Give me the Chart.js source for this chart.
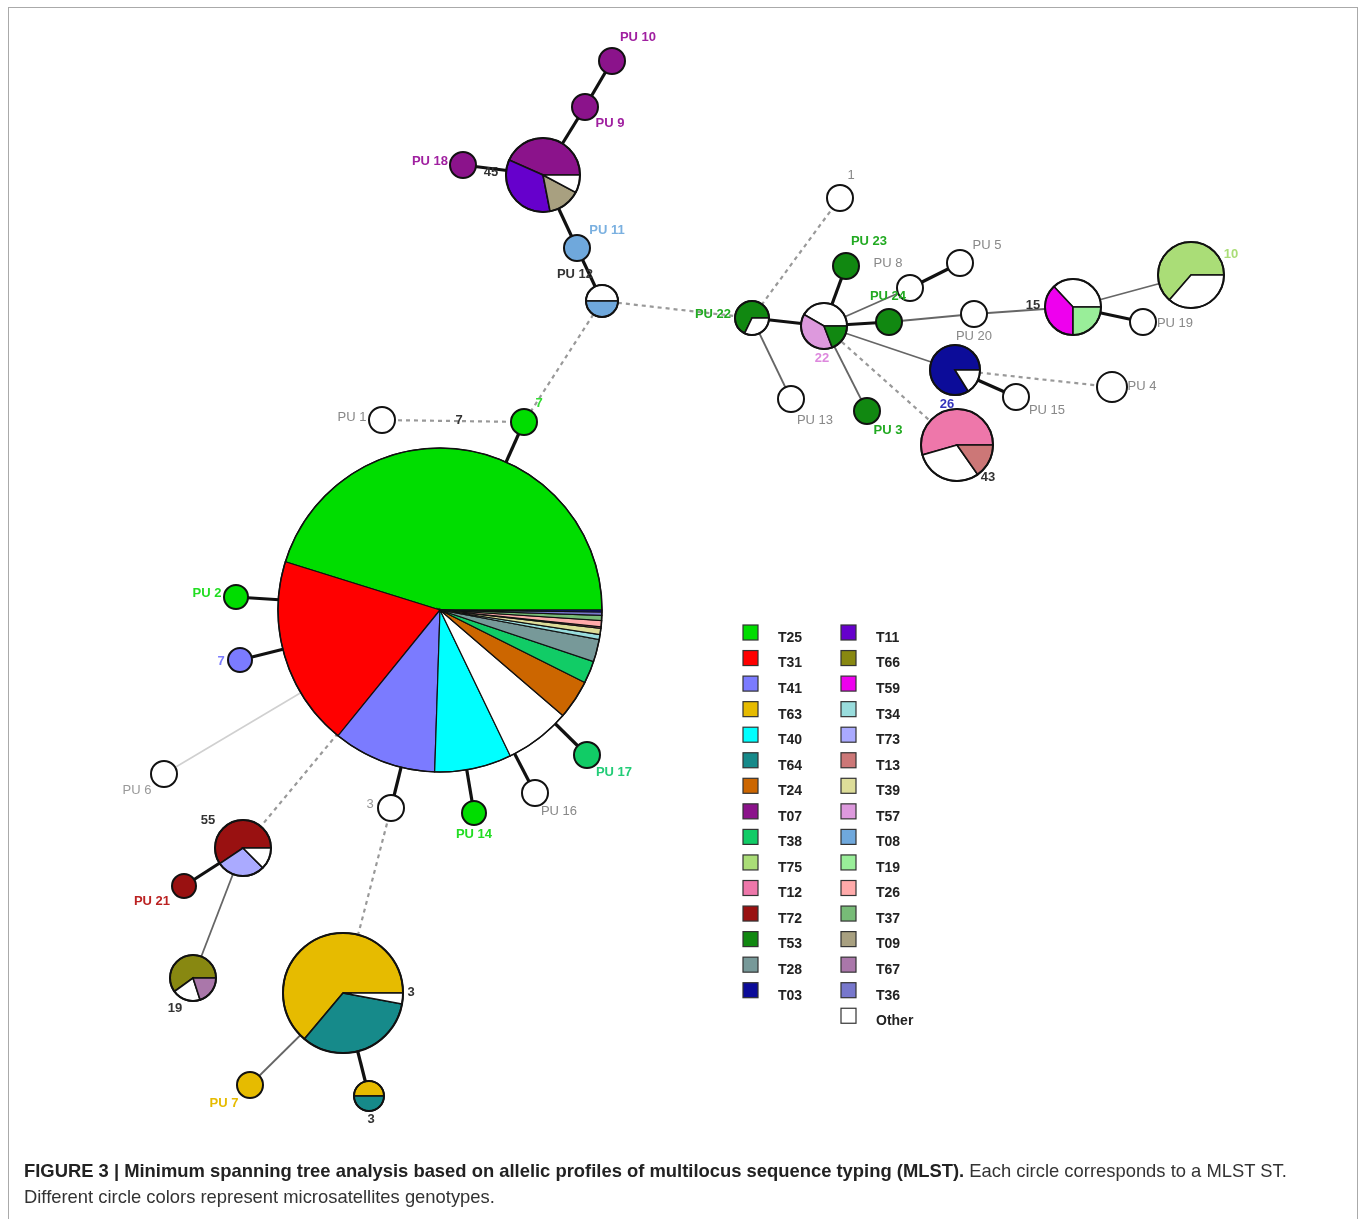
<!DOCTYPE html>
<html>
<head>
<meta charset="utf-8">
<script src="https://cdn.jsdelivr.net/npm/chart.js@4/dist/chart.umd.min.js"></script>
<style>
  body { margin: 0; background: #fff; }
  #frame { position: absolute; left: 8px; top: 7px; width: 1348px; height: 1240px; border: 1px solid #aaa; }
  #wrap { position: absolute; left: 0; top: 0; width: 1362px; height: 1219px; }
  #caption { position: absolute; left: 24px; top: 1158px; font: 18.4px "Liberation Sans", Arial, sans-serif; line-height: 26px; color: #333; }
  #caption b { color: #222; }
</style>
</head>
<body>
<div id="frame"></div>
<div id="wrap"><canvas id="tree" width="1362" height="1219"></canvas></div>
<div id="caption"><b>FIGURE 3 | Minimum spanning tree analysis based on allelic profiles of multilocus sequence typing (MLST).</b> Each circle corresponds to a MLST ST.<br>Different circle colors represent microsatellites genotypes.</div>
<script>
// genotype colours
const typeNames = ['T25','T31','T41','T63','T40','T64','T24','T07','T38','T75','T12','T72','T53','T28','T03',
                   'T11','T66','T59','T34','T73','T13','T39','T57','T08','T19','T26','T37','T09','T67','T36','Other'];
const typeColors = ['#00dd00','#ff0000','#7b7bff','#e6bb00','#00ffff','#168a8a','#cc6600','#8b138b','#11cc66','#aadd77','#ee77aa','#991111','#118811','#779999','#0c0c99',
                    '#6600cc','#888811','#ee00ee','#99dddd','#aaaaff','#cc7777','#dddd99','#dd99dd','#6fa8dc','#99ee99','#ffaaaa','#77bb77','#a8a080','#aa77aa','#7777cc','#ffffff'];

// nodes (layout coordinates) and their size
const nodeIds = ['PU10','PU9','N45','PU18','PU11','PU12','N7','PU1','BIG','PU2','N7b','PU6','N55','PU21','N19','N3w','NY','PU7','N3h',
                 'PU14','PU16','PU17','N1','PU22','PU13','N22','PU23','PU8','PU5','PU24','PU20','N15','N10','PU19','N26','PU15','PU4','PU3','N43'];
const nodeX = [612,585,543,463,577,602,524,382,440,236,240,164,243,184,193,391,343,250,369,
               474,535,587,840,752,791,824,846,910,960,889,974,1073,1191,1143,955,1016,1112,867,957];
const nodeY = [61,107,175,165,248,301,422,420,610,597,660,774,848,886,978,808,993,1085,1096,
               813,793,755,198,318,399,326,266,288,263,322,314,307,275,322,370,397,387,411,445];
const nodeSize = [13,13,37,13,13,16,13,13,162,12,12,13,28,12,23,13,60,13,15,
                  12,13,13,13,17,13,23,13,13,13,13,13,28,33,13,25,13,15,13,36];
// composition of each node, slices counter-clockwise from 3 o'clock (angle shares)
const nodeSlices = [
  [['T07',1]], [['T07',1]],
  [['T07',156],['T11',125],['T09',51],['Other',28]],
  [['T07',1]], [['T08',1]],
  [['Other',180],['T08',180]],
  [['T25',1]], [['Other',1]],
  [['T25',162],['T31',68],['T41',37],['T40',27.5],['Other',23.5],['T24',14],['T38',8],['T28',8],['T34',1.8],['T39',2.2],['T13',0.6],['T26',2.2],['T37',1.8],['T36',1.2],['T03',0.7]],
  [['T25',1]], [['T41',1]], [['Other',1]],
  [['T72',214],['T73',101],['Other',45]],
  [['T72',1]],
  [['T66',216],['Other',72],['T67',72]],
  [['Other',1]],
  [['T63',230],['T64',119.5],['Other',10.5]],
  [['T63',1]],
  [['T63',180],['T64',180]],
  [['T25',1]], [['Other',1]], [['T38',1]], [['Other',1]],
  [['T53',244],['Other',116]],
  [['Other',1]],
  [['Other',150],['T57',141],['T53',69]],
  [['T53',1]], [['Other',1]], [['Other',1]], [['T53',1]], [['Other',1]],
  [['Other',133],['T59',137],['T19',90]],
  [['T75',229],['Other',131]],
  [['Other',1]],
  [['T03',302],['Other',58]],
  [['Other',1]], [['Other',1]], [['T53',1]],
  [['T12',196],['Other',109],['T13',55]]
];

// tree edges
const edgeFrom = ['PU10','PU9','PU18','N45','PU11','N7','PU2','N7b','N3w','PU14','PU16','PU17','PU21','N3h','PU22','N22','N22','PU8','N15','N26',
                  'PU22','N22','N22','N22','PU24','PU20','N15','N55','NY','PU6',
                  'PU12','PU12','PU1','PU22','BIG','N3w','N22','N26'];
const edgeTo   = ['PU9','N45','N45','PU11','PU12','BIG','BIG','BIG','BIG','BIG','BIG','BIG','N55','NY','N22','PU23','PU24','PU5','PU19','PU15',
                  'PU13','PU8','PU3','N26','PU20','N15','N10','N19','PU7','BIG',
                  'N7','PU22','N7','N1','N55','NY','N43','PU4'];
const edgeKind = ['thick','thick','thick','thick','thick','thick','thick','thick','thick','thick','thick','thick','thick','thick','thick','thick','thick','thick','thick','thick',
                  'thin','thin','thin','thin','thin','thin','thin','thin','thin','faint',
                  'dash','dash','dash','dash','dash','dash','dash','dash'];

// node / edge labels
const labelText = ['PU 10','PU 9','PU 18','45','PU 11','PU 12','7','PU 1','7','PU 2','7','PU 6','55','PU 21','19','3','PU 14','PU 16','PU 17','3','PU 7','3',
                   '1','PU 23','PU 8','PU 5','PU 24','PU 22','15','10','PU 19','PU 20','22','26','PU 4','PU 15','PU 13','PU 3','43'];
const labelX = [638,610,430,491,607,575,539,352,459,207,221,137,208,152,175,370,474,559,614,411,224,371,
                851,869,888,987,888,713,1033,1231,1175,974,822,947,1142,1047,815,888,988];
const labelY = [37,123,161,172,230,274,403,417,420,593,661,790,820,901,1008,804,834,811,772,992,1103,1119,
                175,241,263,245,296,314,305,254,323,336,358,404,386,410,420,430,477];
const labelColor = ['#a020a0','#a020a0','#a020a0','#333','#7ab0e0','#333','#33dd33','#888','#333','#22dd22','#7b7bff','#999','#333','#bb2222','#333','#999','#22dd22','#888','#22cc77','#333','#e6bb00','#333',
                    '#888','#22aa22','#888','#888','#22aa22','#22aa22','#333','#aadd77','#888','#888','#dd88dd','#3333bb','#888','#888','#888','#22aa22','#333'];

const colorOf = t => typeColors[typeNames.indexOf(t)];
const idx = id => nodeIds.indexOf(id);

const edgeStyle = {
  thick: { color: '#111', width: 3.2, dash: [] },
  thin:  { color: '#666', width: 1.8, dash: [] },
  faint: { color: '#d0d0d0', width: 1.6, dash: [] },
  dash:  { color: '#999', width: 2.2, dash: [4, 4] }
};

const edgeSets = edgeFrom.map((f, i) => {
  const a = idx(f), b = idx(edgeTo[i]), s = edgeStyle[edgeKind[i]];
  return {
    type: 'line',
    data: [{ x: nodeX[a], y: nodeY[a] }, { x: nodeX[b], y: nodeY[b] }],
    borderColor: s.color, borderWidth: s.width, borderDash: s.dash,
    pointRadius: 0, fill: false, tension: 0, order: 2
  };
});

const nodeSet = {
  type: 'scatter',
  label: 'nodes',
  data: nodeIds.map((id, i) => ({ x: nodeX[i], y: nodeY[i] })),
  pointRadius: 0, order: 1
};

// draws pie nodes, labels and the genotype key
const treePlugin = {
  id: 'tree',
  afterDatasetsDraw(chart) {
    const ctx = chart.ctx, xs = chart.scales.x, ys = chart.scales.y;
    const meta = chart.getDatasetMeta(chart.data.datasets.length - 1);
    ctx.save();
    meta.data.forEach((pt, i) => {
      const cx = pt.x, cy = pt.y;
      const r = xs.getPixelForValue(nodeX[i] + nodeSize[i]) - cx;
      const slices = nodeSlices[i];
      const total = slices.reduce((s, v) => s + v[1], 0);
      let a0 = 0;
      slices.forEach(([t, v]) => {
        const a1 = a0 + v / total * Math.PI * 2;
        ctx.beginPath();
        if (slices.length > 1) ctx.moveTo(cx, cy);
        ctx.arc(cx, cy, r, -a0, -a1, true);
        ctx.closePath();
        ctx.fillStyle = colorOf(t);
        ctx.fill();
        if (slices.length > 1) {
          ctx.strokeStyle = '#111';
          ctx.lineWidth = r > 100 ? 1.2 : 1.6;
          ctx.stroke();
        }
        a0 = a1;
      });
      ctx.beginPath();
      ctx.arc(cx, cy, r, 0, Math.PI * 2);
      ctx.strokeStyle = '#111';
      ctx.lineWidth = r > 100 ? 1.5 : 2;
      ctx.stroke();
    });

    ctx.textAlign = 'center';
    ctx.textBaseline = 'middle';
    labelText.forEach((t, i) => {
      const grey = labelColor[i] === '#888' || labelColor[i] === '#999';
      ctx.font = (grey ? '' : 'bold ') + '13px "Liberation Sans", Arial, sans-serif';
      ctx.fillStyle = labelColor[i];
      ctx.fillText(t, xs.getPixelForValue(labelX[i]), ys.getPixelForValue(labelY[i]));
    });

    // genotype key, two columns
    ctx.textAlign = 'left';
    ctx.font = 'bold 14px "Liberation Sans", Arial, sans-serif';
    typeNames.forEach((t, i) => {
      const col = i < 15 ? 0 : 1, row = i < 15 ? i : i - 15;
      const x = 743 + col * 98, y = 625 + row * 25.55;
      ctx.fillStyle = typeColors[i];
      ctx.fillRect(x, y, 15, 15);
      ctx.strokeStyle = '#333';
      ctx.lineWidth = 1.2;
      ctx.strokeRect(x, y, 15, 15);
      ctx.fillStyle = '#222';
      ctx.fillText(t, x + 35, y + 13);
    });
    ctx.restore();
  }
};

new Chart(document.getElementById('tree'), {
  type: 'scatter',
  data: { datasets: [...edgeSets, nodeSet] },
  options: {
    responsive: false,
    animation: false,
    events: [],
    layout: { padding: 0 },
    scales: {
      x: { type: 'linear', min: 0, max: 1362, display: false },
      y: { type: 'linear', min: 0, max: 1219, reverse: true, display: false }
    },
    plugins: { legend: { display: false }, tooltip: { enabled: false } }
  },
  plugins: [treePlugin]
});
</script>
</body>
</html>
